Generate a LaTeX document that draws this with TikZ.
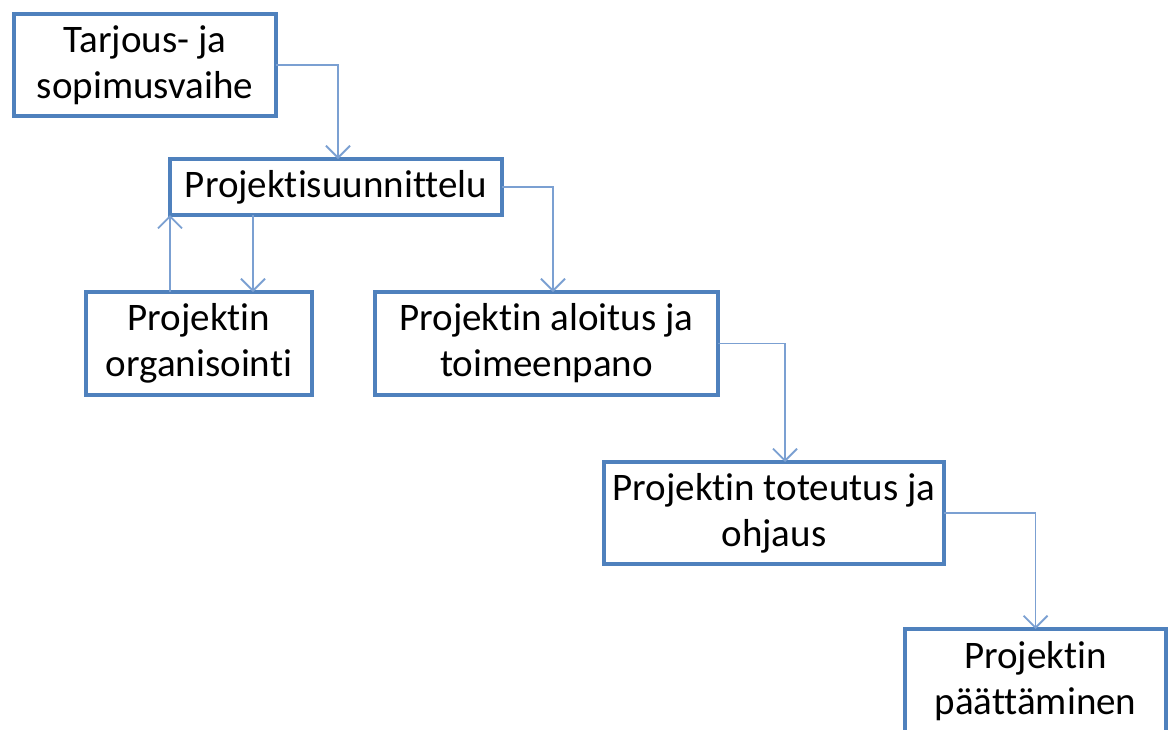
\documentclass[tikz,border=0pt]{standalone}
\usepackage{fontspec}
\setmainfont[Ligatures=NoCommon]{Carlito}
\usetikzlibrary{arrows.meta}
\definecolor{boxblue}{HTML}{4F81BD}
\definecolor{linkblue}{HTML}{7BA0D2}
\tikzset{
  stagebox/.style={draw=boxblue, line width=4pt, outer sep=0pt, inner sep=0pt,
    align=center, font=\fontsize{39}{46}\selectfont, text=black},
  conn/.style={draw=linkblue, line width=1.8pt,
    -{Straight Barb[length=12pt,width=24pt]}}
}
\begin{document}
\begin{tikzpicture}[x=1pt,y=-1pt]
\useasboundingbox[fill=white] (0,0) rectangle (1175,729);
\node[stagebox, minimum width=262pt, minimum height=102pt] (b1) at (145,65) {Tarjous- ja\\sopimusvaihe};
\node[stagebox, minimum width=332pt, minimum height=56pt] (b2) at (336,187) {Projektisuunnittelu};
\node[stagebox, minimum width=226pt, minimum height=103pt] (b3) at (199,343.5) {Projektin\\organisointi};
\node[stagebox, minimum width=343pt, minimum height=103pt] (b4) at (546.5,343.5) {Projektin aloitus ja\\toimeenpano};
\node[stagebox, minimum width=340pt, minimum height=102pt] (b5) at (774,513) {Projektin toteutus ja\\ohjaus};
\node[stagebox, minimum width=261pt, minimum height=104pt] (b6) at (1035.5,681) {Projektin\\päättäminen};
\draw[conn] (b1.east) -| ([xshift=2pt]b2.north);
\draw[conn] (b2.east) -| ([xshift=6.5pt]b4.north);
\draw[conn] ([xshift=-83pt]b2.south) -- ([xshift=54pt]b3.north);
\draw[conn] (b3.north -| b2.south west) -- (b2.south west);
\draw[conn] (b4.east) -| ([xshift=11pt]b5.north);
\draw[conn] (b5.east) -| (b6.north);
\end{tikzpicture}
\end{document}
